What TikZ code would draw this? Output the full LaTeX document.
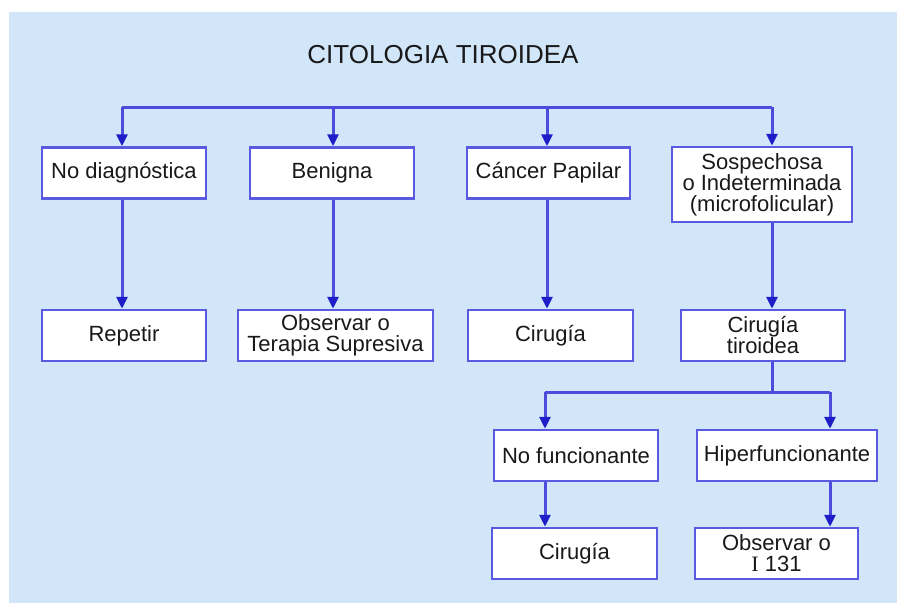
\documentclass[tikz,border=0pt]{standalone}
\usepackage{fontspec}
\setmainfont{Liberation Sans}
\newfontfamily\serifa{Liberation Serif}
\usetikzlibrary{arrows.meta, calc}

\definecolor{fondo}{HTML}{D2E6FA}
\definecolor{azulLinea}{HTML}{4B4BDC}
\definecolor{azulPunta}{HTML}{1E1EC8}
\definecolor{azulBorde}{HTML}{5A5AE0}

\tikzset{
  caja/.style={draw=azulBorde, line width=2.5pt, fill=white, minimum height=51pt,
    inner sep=0pt, align=center, text=black!90, font=\fontsize{22}{21}\selectfont},
  bus/.style={draw=azulLinea, line width=3pt},
  flecha/.style={draw=azulLinea, line width=3pt, -{Triangle[width=11pt,length=12pt,color=azulPunta]}}
}

\begin{document}
\begin{tikzpicture}[x=1pt, y=-1pt]
        \useasboundingbox (0,0) rectangle (897,603);
        \fill[fondo] (9,12) rectangle (897,603);

        \node[text=black!90, font=\fontsize{26}{26}\selectfont] (titulo) at (443,55) {CITOLOGIA TIROIDEA};

        % primera fila
        \node[caja, minimum width=164pt] (nodiag) at (124,173) {No diagnóstica};
        \node[caja, minimum width=164pt] (benigna) at (332,173) {Benigna};
        \node[caja, minimum width=163pt] (cancer) at (548.5,173) {Cáncer Papilar};
        \node[caja, minimum width=180pt, minimum height=75pt] (sospecha) at (762,184.5) {Sospechosa\\o Indeterminada\\(microfolicular)};

        % segunda fila
        \node[caja, minimum width=164pt] (repetir) at (124,335.5) {Repetir};
        \node[caja, minimum width=195pt] (observar) at (335.5,335.5) {Observar o\\Terapia Supresiva};
        \node[caja, minimum width=165pt] (cirugia) at (550.5,335.5) {Cirugía};
        \node[caja, minimum width=164pt] (cirtiro) at (763,335.5) {Cirugía\\tiroidea};

        % tercera y cuarta fila
        \node[caja, minimum width=164pt] (nofunc) at (576,455.5) {No funcionante};
        \node[caja, minimum width=180pt] (hiper) at (787,455.5) {Hiperfuncionante};
        \node[caja, minimum width=165pt] (cirugiab) at (574.5,553.5) {Cirugía};
        \node[caja, minimum width=163pt] (observarb) at (776.5,553.5) {Observar o\\{\serifa I} 131};

        % columnas de los conectores
        \coordinate (c1) at (122,107);
        \coordinate (c2) at (333,107);
        \coordinate (c3) at (547,107);
        \coordinate (c4) at (772,107);
        \coordinate (c5) at (545,392);
        \coordinate (c6) at (772,392);
        \coordinate (c7) at (830,392);

        \draw[bus] (c1) -- (c4);
        \draw[flecha] (c1) -- (c1 |- nodiag.north);
        \draw[flecha] (c2) -- (c2 |- benigna.north);
        \draw[flecha] (c3) -- (c3 |- cancer.north);
        \draw[flecha] (c4) -- (c4 |- sospecha.north);

        \draw[flecha] (c1 |- nodiag.south) -- (c1 |- repetir.north);
        \draw[flecha] (c2 |- benigna.south) -- (c2 |- observar.north);
        \draw[flecha] (c3 |- cancer.south) -- (c3 |- cirugia.north);
        \draw[flecha] (c4 |- sospecha.south) -- (c4 |- cirtiro.north);

        \draw[bus] (c6 |- cirtiro.south) -- (c6);
        \draw[bus] (c5) -- (c7);
        \draw[flecha] (c5) -- (c5 |- nofunc.north);
        \draw[flecha] (c7) -- (c7 |- hiper.north);
        \draw[flecha] (c5 |- nofunc.south) -- (c5 |- cirugiab.north);
        \draw[flecha] (c7 |- hiper.south) -- (c7 |- observarb.north);
    \end{tikzpicture}
\end{document}
